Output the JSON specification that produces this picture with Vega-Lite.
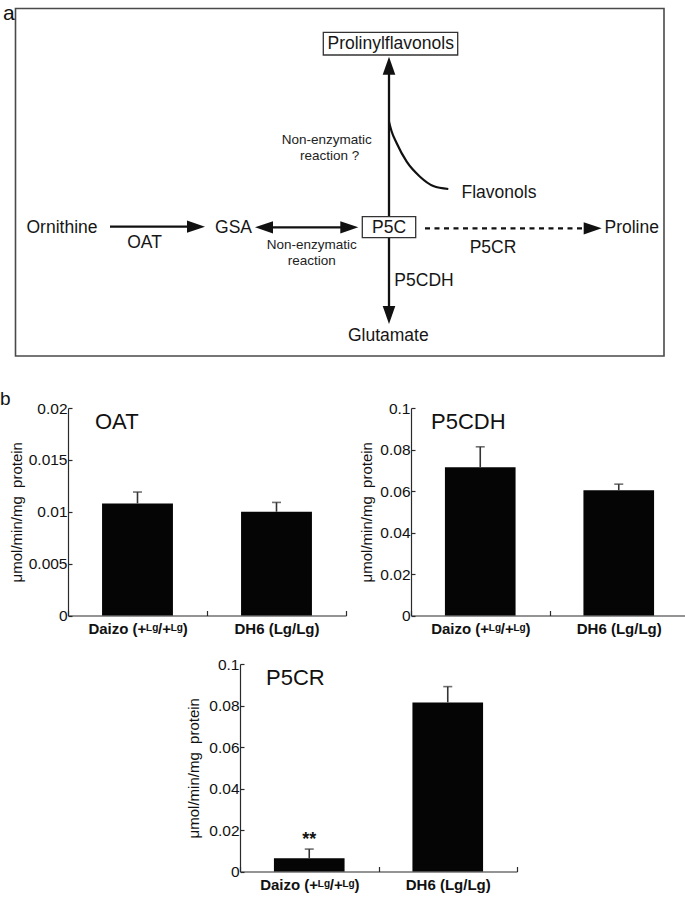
{
  "$schema": "https://vega.github.io/schema/vega-lite/v6.json",
  "padding": 0,
  "background": "white",
  "spacing": 33,
  "datasets": {
    "nodes": [
      {"label": "a", "x": 3, "y": 2.5, "kind": "panel"},
      {"label": "Prolinylflavonols", "x": 390.7, "y": 44, "kind": "node"},
      {"label": "Ornithine", "x": 62, "y": 228, "kind": "node"},
      {"label": "OAT", "x": 144.5, "y": 243, "kind": "node"},
      {"label": "GSA", "x": 233.5, "y": 228, "kind": "node"},
      {"label": "P5C", "x": 389, "y": 228, "kind": "node"},
      {"label": "Proline", "x": 631.7, "y": 228, "kind": "node"},
      {"label": "P5CR", "x": 493, "y": 248.3, "kind": "node"},
      {"label": "P5CDH", "x": 424, "y": 281, "kind": "node"},
      {"label": "Glutamate", "x": 388.3, "y": 336, "kind": "node"},
      {"label": "Flavonols", "x": 499, "y": 192.7, "kind": "node"},
      {"label": "Non-enzymatic", "x": 326.7, "y": 140, "kind": "note"},
      {"label": "reaction ?", "x": 329.7, "y": 155.5, "kind": "note"},
      {"label": "Non-enzymatic", "x": 311.7, "y": 245, "kind": "note"},
      {"label": "reaction", "x": 311.7, "y": 260.7, "kind": "note"}
    ],
    "shafts": [
      {"step": "OAT", "x": 110, "y": 226.7, "x2": 190, "y2": 226.7, "certain": true},
      {"step": "GSA-P5C", "x": 262, "y": 227.3, "x2": 352, "y2": 227.3, "certain": true},
      {"step": "P5C-prolinylflavonols", "x": 389, "y": 216.7, "x2": 389, "y2": 72, "certain": true},
      {"step": "P5CDH", "x": 389, "y": 237.7, "x2": 389, "y2": 312, "certain": true},
      {"step": "P5CR", "x": 425, "y": 228.3, "x2": 586, "y2": 228.3, "certain": false}
    ],
    "heads": [
      {"step": "OAT", "x": 196, "y": 226.7, "dir": "right"},
      {"step": "GSA-P5C", "x": 264, "y": 227.3, "dir": "left"},
      {"step": "GSA-P5C", "x": 349.3, "y": 227.3, "dir": "right"},
      {"step": "P5C-prolinylflavonols", "x": 389, "y": 65.7, "dir": "up"},
      {"step": "P5CDH", "x": 389, "y": 315, "dir": "down"},
      {"step": "P5CR", "x": 592.7, "y": 228.3, "dir": "right"}
    ],
    "boxes": [
      {"box": "Prolinylflavonols", "x": 323.3, "x2": 457.7, "y": 32.3, "y2": 55},
      {"box": "P5C", "x": 362.3, "x2": 415.7, "y": 216.7, "y2": 237.7}
    ],
    "frame": [
      {"x": 15.5, "x2": 664, "y": 8.5, "y2": 356}
    ],
    "curve": [
      {"i": 0, "x": 389, "y": 121.7},
      {"i": 1, "x": 391.5, "y": 131},
      {"i": 2, "x": 396.7, "y": 143.3},
      {"i": 3, "x": 406.7, "y": 161.7},
      {"i": 4, "x": 420, "y": 176.7},
      {"i": 5, "x": 433.3, "y": 186},
      {"i": 6, "x": 448.3, "y": 189}
    ],
    "activity": [
      {"enzyme": "OAT", "line": "Daizo (+ᴸᵍ/+ᴸᵍ)", "mean": 0.0108, "upper": 0.0119},
      {"enzyme": "OAT", "line": "DH6 (Lg/Lg)", "mean": 0.0100, "upper": 0.0109},
      {"enzyme": "P5CDH", "line": "Daizo (+ᴸᵍ/+ᴸᵍ)", "mean": 0.0714, "upper": 0.0813},
      {"enzyme": "P5CDH", "line": "DH6 (Lg/Lg)", "mean": 0.0604, "upper": 0.0633},
      {"enzyme": "P5CR", "line": "Daizo (+ᴸᵍ/+ᴸᵍ)", "mean": 0.0064, "upper": 0.0108},
      {"enzyme": "P5CR", "line": "DH6 (Lg/Lg)", "mean": 0.0815, "upper": 0.0891}
    ],
    "spacer": [{"blank": 0}]
  },
  "vconcat": [
    {
      "width": 617,
      "height": 357,
      "layer": [
        {
          "data": {"name": "frame"},
          "mark": {"type": "rect", "fill": "white", "fillOpacity": 0, "stroke": "#4a4a4a", "strokeWidth": 1.6},
          "encoding": {
            "x": {"field": "x", "type": "quantitative", "scale": {"domain": [68, 685], "nice": false, "zero": false}, "axis": null},
            "x2": {"field": "x2"},
            "y": {"field": "y", "type": "quantitative", "scale": {"domain": [0, 357], "nice": false, "zero": false, "reverse": true}, "axis": null},
            "y2": {"field": "y2"}
          }
        },
        {
          "data": {"name": "shafts"},
          "transform": [{"filter": "datum.certain"}],
          "mark": {"type": "rule", "color": "#111", "strokeWidth": 2.3},
          "encoding": {
            "x": {"field": "x", "type": "quantitative"},
            "x2": {"field": "x2"},
            "y": {"field": "y", "type": "quantitative"},
            "y2": {"field": "y2"}
          }
        },
        {
          "data": {"name": "shafts"},
          "transform": [{"filter": "!datum.certain"}],
          "mark": {"type": "rule", "color": "#111", "strokeWidth": 2.2, "strokeDash": [5, 4.5]},
          "encoding": {
            "x": {"field": "x", "type": "quantitative"},
            "x2": {"field": "x2"},
            "y": {"field": "y", "type": "quantitative"},
            "y2": {"field": "y2"}
          }
        },
        {
          "data": {"name": "curve"},
          "mark": {"type": "line", "color": "#111", "strokeWidth": 2.2, "interpolate": "monotone"},
          "encoding": {
            "x": {"field": "x", "type": "quantitative"},
            "y": {"field": "y", "type": "quantitative"},
            "order": {"field": "i"}
          }
        },
        {
          "data": {"name": "heads"},
          "transform": [{"filter": "datum.dir === 'right'"}],
          "mark": {"type": "point", "filled": true, "opacity": 1, "color": "#111", "size": 324, "shape": "M-1,-0.68L1,0L-1,0.68Z"},
          "encoding": {"x": {"field": "x", "type": "quantitative"}, "y": {"field": "y", "type": "quantitative"}}
        },
        {
          "data": {"name": "heads"},
          "transform": [{"filter": "datum.dir === 'left'"}],
          "mark": {"type": "point", "filled": true, "opacity": 1, "color": "#111", "size": 324, "shape": "M1,-0.68L-1,0L1,0.68Z"},
          "encoding": {"x": {"field": "x", "type": "quantitative"}, "y": {"field": "y", "type": "quantitative"}}
        },
        {
          "data": {"name": "heads"},
          "transform": [{"filter": "datum.dir === 'up'"}],
          "mark": {"type": "point", "filled": true, "opacity": 1, "color": "#111", "size": 324, "shape": "M-0.7,1L0,-1L0.7,1Z"},
          "encoding": {"x": {"field": "x", "type": "quantitative"}, "y": {"field": "y", "type": "quantitative"}}
        },
        {
          "data": {"name": "heads"},
          "transform": [{"filter": "datum.dir === 'down'"}],
          "mark": {"type": "point", "filled": true, "opacity": 1, "color": "#111", "size": 324, "shape": "M-0.7,-1L0,1L0.7,-1Z"},
          "encoding": {"x": {"field": "x", "type": "quantitative"}, "y": {"field": "y", "type": "quantitative"}}
        },
        {
          "data": {"name": "boxes"},
          "mark": {"type": "rect", "fill": "white", "stroke": "#333", "strokeWidth": 1.3},
          "encoding": {
            "x": {"field": "x", "type": "quantitative"},
            "x2": {"field": "x2"},
            "y": {"field": "y", "type": "quantitative"},
            "y2": {"field": "y2"}
          }
        },
        {
          "data": {"name": "nodes"},
          "transform": [{"filter": "datum.kind === 'node'"}],
          "mark": {"type": "text", "fontSize": 17.5, "align": "center", "baseline": "middle", "color": "#161616", "font": "Liberation Sans"},
          "encoding": {"x": {"field": "x", "type": "quantitative"}, "y": {"field": "y", "type": "quantitative"}, "text": {"field": "label"}}
        },
        {
          "data": {"name": "nodes"},
          "transform": [{"filter": "datum.kind === 'note'"}],
          "mark": {"type": "text", "fontSize": 13.5, "align": "center", "baseline": "middle", "color": "#222", "font": "Liberation Sans"},
          "encoding": {"x": {"field": "x", "type": "quantitative"}, "y": {"field": "y", "type": "quantitative"}, "text": {"field": "label"}}
        },
        {
          "data": {"name": "nodes"},
          "transform": [{"filter": "datum.kind === 'panel'"}],
          "mark": {"type": "text", "fontSize": 21, "align": "left", "baseline": "top", "color": "#111", "font": "Liberation Sans"},
          "encoding": {"x": {"field": "x", "type": "quantitative"}, "y": {"field": "y", "type": "quantitative"}, "text": {"field": "label"}}
        }
      ]
    },
    {
      "spacing": 20,
      "vconcat": [
        {
          "spacing": 12,
          "hconcat": [
            {
              "width": 278,
              "height": 207.5,
              "data": {"name": "activity"},
              "transform": [{"filter": "datum.enzyme === 'OAT'"}],
              "encoding": {
                "x": {"field": "line", "type": "nominal", "sort": null,
                  "scale": {"domain": ["Daizo (+ᴸᵍ/+ᴸᵍ)", "DH6 (Lg/Lg)"], "paddingInner": 0, "paddingOuter": 0},
                  "axis": {"title": null, "tickBand": "extent", "tickSize": -5, "labelAngle": 0, "labelFontSize": 15, "labelFontWeight": "bold", "labelPadding": 11}}
              },
              "layer": [
                {
                  "mark": {"type": "bar", "color": "#050505", "width": {"band": 0.51}},
                  "encoding": {
                    "y": {"field": "mean", "type": "quantitative", "scale": {"domain": [0, 0.02], "nice": false},
                      "axis": {"values": [0, 0.005, 0.01, 0.015, 0.02], "format": "~g", "title": "μmol/min/mg\u00a0 protein", "titleFontWeight": "normal", "titleFontSize": 15, "titlePadding": 4, "tickSize": -4, "labelFontSize": 15.5, "labelPadding": 5, "labelOverlap": false}}
                  }
                },
                {
                  "mark": {"type": "rule", "color": "#333", "strokeWidth": 1.6},
                  "encoding": {"y": {"field": "mean", "type": "quantitative"}, "y2": {"field": "upper"}}
                },
                {
                  "mark": {"type": "tick", "color": "#333", "thickness": 1.6, "size": 9},
                  "encoding": {"y": {"field": "upper", "type": "quantitative"}}
                },
                {
                  "transform": [{"filter": "datum.line === 'Daizo (+ᴸᵍ/+ᴸᵍ)'"}],
                  "mark": {"type": "text", "align": "left", "baseline": "top", "fontSize": 22, "dx": 27, "dy": 4, "color": "#111"},
                  "encoding": {"x": {"field": "line", "type": "nominal", "bandPosition": 0}, "y": {"datum": 0.02}, "text": {"field": "enzyme"}}
                },
                {
                  "transform": [{"filter": "datum.line === 'Daizo (+ᴸᵍ/+ᴸᵍ)'"}],
                  "mark": {"type": "text", "align": "left", "baseline": "alphabetic", "fontSize": 19, "dx": -68, "dy": -3, "color": "#111"},
                  "encoding": {"x": {"field": "line", "type": "nominal", "bandPosition": 0}, "y": {"datum": 0.02}, "text": {"value": "b"}}
                }
              ]
            },
            {
              "width": 277,
              "height": 207.5,
              "data": {"name": "activity"},
              "transform": [{"filter": "datum.enzyme === 'P5CDH'"}],
              "encoding": {
                "x": {"field": "line", "type": "nominal", "sort": null,
                  "scale": {"domain": ["Daizo (+ᴸᵍ/+ᴸᵍ)", "DH6 (Lg/Lg)"], "paddingInner": 0, "paddingOuter": 0},
                  "axis": {"title": null, "tickBand": "extent", "tickSize": -5, "labelAngle": 0, "labelFontSize": 15, "labelFontWeight": "bold", "labelPadding": 11}}
              },
              "layer": [
                {
                  "mark": {"type": "bar", "color": "#050505", "width": {"band": 0.51}},
                  "encoding": {
                    "y": {"field": "mean", "type": "quantitative", "scale": {"domain": [0, 0.1], "nice": false},
                      "axis": {"values": [0, 0.02, 0.04, 0.06, 0.08, 0.1], "format": "~g", "title": "μmol/min/mg\u00a0 protein", "titleFontWeight": "normal", "titleFontSize": 15, "titlePadding": 5, "tickSize": -4, "labelFontSize": 15.5, "labelPadding": 5, "labelOverlap": false}}
                  }
                },
                {
                  "mark": {"type": "rule", "color": "#333", "strokeWidth": 1.6},
                  "encoding": {"y": {"field": "mean", "type": "quantitative"}, "y2": {"field": "upper"}}
                },
                {
                  "mark": {"type": "tick", "color": "#333", "thickness": 1.6, "size": 9},
                  "encoding": {"y": {"field": "upper", "type": "quantitative"}}
                },
                {
                  "transform": [{"filter": "datum.line === 'Daizo (+ᴸᵍ/+ᴸᵍ)'"}],
                  "mark": {"type": "text", "align": "left", "baseline": "top", "fontSize": 22, "dx": 20, "dy": 4, "color": "#111"},
                  "encoding": {"x": {"field": "line", "type": "nominal", "bandPosition": 0}, "y": {"datum": 0.1}, "text": {"field": "enzyme"}}
                }
              ]
            }
          ]
        },
        {
          "spacing": 0,
          "hconcat": [
            {
              "width": 118,
              "height": 207.5,
              "data": {"name": "spacer"},
              "mark": {"type": "point", "opacity": 0},
              "encoding": {}
            },
            {
              "width": 277,
              "height": 207.5,
              "data": {"name": "activity"},
              "transform": [{"filter": "datum.enzyme === 'P5CR'"}],
              "encoding": {
                "x": {"field": "line", "type": "nominal", "sort": null,
                  "scale": {"domain": ["Daizo (+ᴸᵍ/+ᴸᵍ)", "DH6 (Lg/Lg)"], "paddingInner": 0, "paddingOuter": 0},
                  "axis": {"title": null, "tickBand": "extent", "tickSize": -5, "labelAngle": 0, "labelFontSize": 15, "labelFontWeight": "bold", "labelPadding": 11}}
              },
              "layer": [
                {
                  "mark": {"type": "bar", "color": "#050505", "width": {"band": 0.51}},
                  "encoding": {
                    "y": {"field": "mean", "type": "quantitative", "scale": {"domain": [0, 0.1], "nice": false},
                      "axis": {"values": [0, 0.02, 0.04, 0.06, 0.08, 0.1], "format": "~g", "title": "μmol/min/mg\u00a0 protein", "titleFontWeight": "normal", "titleFontSize": 15, "titlePadding": 7, "tickSize": -4, "labelFontSize": 15.5, "labelPadding": 5, "labelOverlap": false}}
                  }
                },
                {
                  "mark": {"type": "rule", "color": "#333", "strokeWidth": 1.6},
                  "encoding": {"y": {"field": "mean", "type": "quantitative"}, "y2": {"field": "upper"}}
                },
                {
                  "mark": {"type": "tick", "color": "#333", "thickness": 1.6, "size": 9},
                  "encoding": {"y": {"field": "upper", "type": "quantitative"}}
                },
                {
                  "transform": [{"filter": "datum.line === 'Daizo (+ᴸᵍ/+ᴸᵍ)'"}],
                  "mark": {"type": "text", "align": "center", "baseline": "alphabetic", "fontSize": 18, "fontWeight": "bold", "dy": -4, "color": "#111"},
                  "encoding": {"y": {"field": "upper", "type": "quantitative"}, "text": {"value": "**"}}
                },
                {
                  "transform": [{"filter": "datum.line === 'Daizo (+ᴸᵍ/+ᴸᵍ)'"}],
                  "mark": {"type": "text", "align": "left", "baseline": "top", "fontSize": 22, "dx": 26, "dy": 4, "color": "#111"},
                  "encoding": {"x": {"field": "line", "type": "nominal", "bandPosition": 0}, "y": {"datum": 0.1}, "text": {"field": "enzyme"}}
                }
              ]
            }
          ]
        }
      ]
    }
  ],
  "config": {
    "view": {"stroke": null},
    "font": "Liberation Sans",
    "axis": {"labelFont": "Liberation Sans", "titleFont": "Liberation Sans", "domainColor": "#2a2a2a", "tickColor": "#2a2a2a", "labelColor": "#111", "titleColor": "#111", "grid": false, "domainWidth": 1.2, "tickWidth": 1.2},
    "title": {"font": "Liberation Sans"}
  }
}
